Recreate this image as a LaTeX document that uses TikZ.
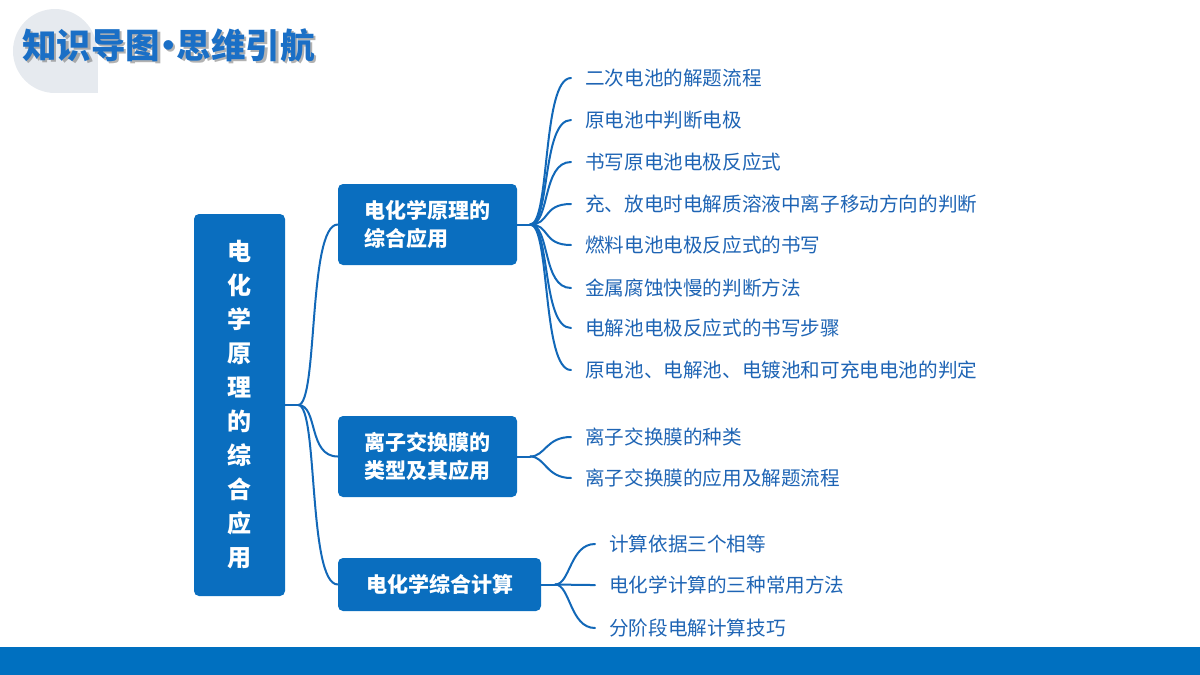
\documentclass[tikz,border=0pt]{standalone}
\usepackage{fontspec}
\setmainfont{Noto Sans CJK SC}
\usetikzlibrary{calc}
\definecolor{boxblue}{HTML}{0A6EBF}
\definecolor{linkblue}{HTML}{1268B8}
\definecolor{leafblue}{HTML}{1E64B4}
\definecolor{titleblue}{HTML}{1A6FC6}
\definecolor{barblue}{HTML}{0070C0}
\definecolor{circgray}{HTML}{E6EAEF}
\newcommand{\mytitletext}{知识导图\kern-9pt·\kern-9pt思维引航}
\tikzset{
  mainbox/.style={fill=boxblue, rounded corners=5pt, text=white, font=\fontsize{21}{28}\selectfont\bfseries, inner sep=0pt, align=left},
  leaf/.style={anchor=west, text=leafblue, font=\fontsize{19.6}{22}\selectfont, inner xsep=14pt, inner ysep=2pt},
  link/.style={draw=linkblue, line width=2pt, line cap=round},
  titlefont/.style={anchor=west, inner sep=0pt, font=\fontsize{34.5}{38}\selectfont\bfseries},
}
\begin{document}
\begin{tikzpicture}[x=1pt,y=-1pt]
\useasboundingbox (0,0) rectangle (1200,675);
% header decoration
\fill[circgray] (55,51) circle[radius=42];
\fill[circgray] (55,51) rectangle (98,93);
\node[titlefont, text=black!55, opacity=0.55] (titleshadow) at (24.5,47.5) {\mytitletext};
\node[titlefont, text=titleblue] (title) at (22,45) {\mytitletext};
% bottom bar
\fill[barblue] (0,647) rectangle (1200,675);
% root
\node[fill=boxblue, rounded corners=5pt, minimum width=91pt, minimum height=382pt, inner sep=0pt, text=white, align=center, font=\fontsize{24}{34}\selectfont\bfseries] (root) at (239.5,405) {电\\化\\学\\原\\理\\的\\综\\合\\应\\用};
% level-1 boxes
\node[mainbox, minimum width=179pt, minimum height=81pt] (b1) at (427.5,224.5) {\parbox{126pt}{\raggedright 电化学原理的\\综合应用}};
\node[mainbox, minimum width=179pt, minimum height=81pt] (b2) at (427.5,456.5) {\parbox{126pt}{\raggedright 离子交换膜的\\类型及其应用}};
\node[mainbox, minimum width=203pt, minimum height=53pt] (b3) at (439.5,584.5) {电化学综合计算};
% root links
\coordinate (rj) at ($(root.east)+(13,0)$);
\draw[link] (root.east) -- (rj);
\draw[link] (rj) .. controls +(20,0) and ($(b1.west)+(-30,0)$) .. (b1.west);
\draw[link] (rj) .. controls +(20,0) and ($(b2.west)+(-30,0)$) .. (b2.west);
\draw[link] (rj) .. controls +(20,0) and ($(b3.west)+(-30,0)$) .. (b3.west);
% leaves of b1
\node[leaf] (l11) at (571,78) {二次电池的解题流程};
\node[leaf] (l12) at (571,120) {原电池中判断电极};
\node[leaf] (l13) at (571,162) {书写原电池电极反应式};
\node[leaf] (l14) at (571,204) {充、放电时电解质溶液中离子移动方向的判断};
\node[leaf] (l15) at (571,245) {燃料电池电极反应式的书写};
\node[leaf] (l16) at (571,288) {金属腐蚀快慢的判断方法};
\node[leaf] (l17) at (571,328) {电解池电极反应式的书写步骤};
\node[leaf] (l18) at (571,370) {原电池、电解池、电镀池和可充电电池的判定};
\coordinate (j1) at ($(b1.east)+(13,0)$);
\draw[link] (b1.east) -- (j1);
\foreach \n in {l11,l12,l13,l14,l15,l16,l17,l18}
  \draw[link] (j1) .. controls +(20,0) and ($(\n.west)+(-29,0)$) .. (\n.west);
% leaves of b2
\node[leaf] (l21) at (571,437) {离子交换膜的种类};
\node[leaf] (l22) at (571,478) {离子交换膜的应用及解题流程};
\coordinate (j2) at ($(b2.east)+(13,0)$);
\draw[link] (b2.east) -- (j2);
\foreach \n in {l21,l22}
  \draw[link] (j2) .. controls +(15,0) and ($(\n.west)+(-25,0)$) .. (\n.west);
% leaves of b3
\node[leaf] (l31) at (595,544) {计算依据三个相等};
\node[leaf] (l32) at (595,585) {电化学计算的三种常用方法};
\node[leaf] (l33) at (595,628) {分阶段电解计算技巧};
\coordinate (j3) at ($(b3.east)+(14,0)$);
\draw[link] (b3.east) -- (j3);
\foreach \n in {l31,l32,l33}
  \draw[link] (j3) .. controls +(15,0) and ($(\n.west)+(-25,0)$) .. (\n.west);
\end{tikzpicture}
\end{document}
